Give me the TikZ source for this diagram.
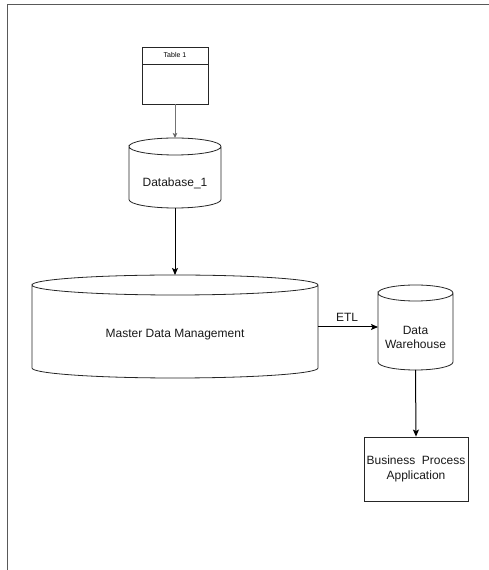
\documentclass[tikz,border=0pt]{standalone}
\usepackage{fontspec}
\setmainfont{Liberation Sans}
\usetikzlibrary{arrows.meta}

% Cylinder with a named bounding node: #1 name, #2,#3 centre, #4 half width, #5 half height, #6 cap radius
\newcommand\dbcylinder[6]{%
  \node[minimum width=2*#4pt, minimum height=2*#5pt, inner sep=0pt, outer sep=0pt] (#1) at (#2,#3) {};
  \draw[shapeline] (#2-#4,#3+#5-#6) arc[start angle=180, end angle=-180, x radius=#4pt, y radius=#6pt]
    -- (#2-#4,#3-#5+#6) arc[start angle=180, end angle=360, x radius=#4pt, y radius=#6pt]
    -- (#2+#4,#3+#5-#6);
}

\tikzset{
  shapeline/.style={draw=black!85, line width=0.8pt},
  boxnode/.style={shapeline, fill=white, inner sep=0pt, align=center},
  lbl/.style={inner sep=0pt, align=center, font=\fontsize{12}{14.5}\selectfont, text=black!90},
  flow/.style={draw=black, line width=1pt, -{Stealth[length=7pt, width=6pt, inset=1.5pt]}},
  thinflow/.style={draw=black!55, line width=0.7pt, -{Stealth[length=5pt, width=4.5pt, inset=1pt, fill=black]}},
  frameline/.style={draw=black!65, line width=1pt},
}

\begin{document}
\begin{tikzpicture}[x=1pt, y=1pt]
\useasboundingbox (0,0) rectangle (489,570);

% open frame along the top and left
\draw[frameline] (489,565) -- (7,565) -- (7,0);

% source table with header row
\node[boxnode, minimum width=66pt, minimum height=57pt] (table) at (175,494.5) {};
\draw[shapeline] (142,506) -- (208,506);
\node[inner sep=0pt, font=\fontsize{7}{8}\selectfont] (tabletitle) at (175,514.5) {Table 1};

% databases
\dbcylinder{db}{175}{397}{46}{35}{8.5}
\node[lbl] (dbtext) at (175,387) {Database\_1};

\dbcylinder{mdm}{175}{243.5}{143}{51.5}{10}
\node[lbl] (mdmtext) at (175,235) {Master Data Management};

\dbcylinder{dw}{415.5}{242.5}{37.5}{42.5}{8}
\node[lbl] (dwtext) at (415.5,232.5) {Data\\Warehouse};

% consuming application
\node[boxnode, minimum width=104pt, minimum height=64pt, lbl] (bpa) at (416,101) {Business\ \ Process\\Application};

% connectors
\draw[thinflow] (table.south) -- (db.north);
\draw[flow] (db.south) -- (mdm.north);
\draw[flow] (mdm.east |- 0,243) -- node[lbl, above=5pt, xshift=-1pt] (etl) {ETL} (dw.west |- 0,243);
\draw[flow] (dw.south) -- (bpa.north);
\end{tikzpicture}
\end{document}
